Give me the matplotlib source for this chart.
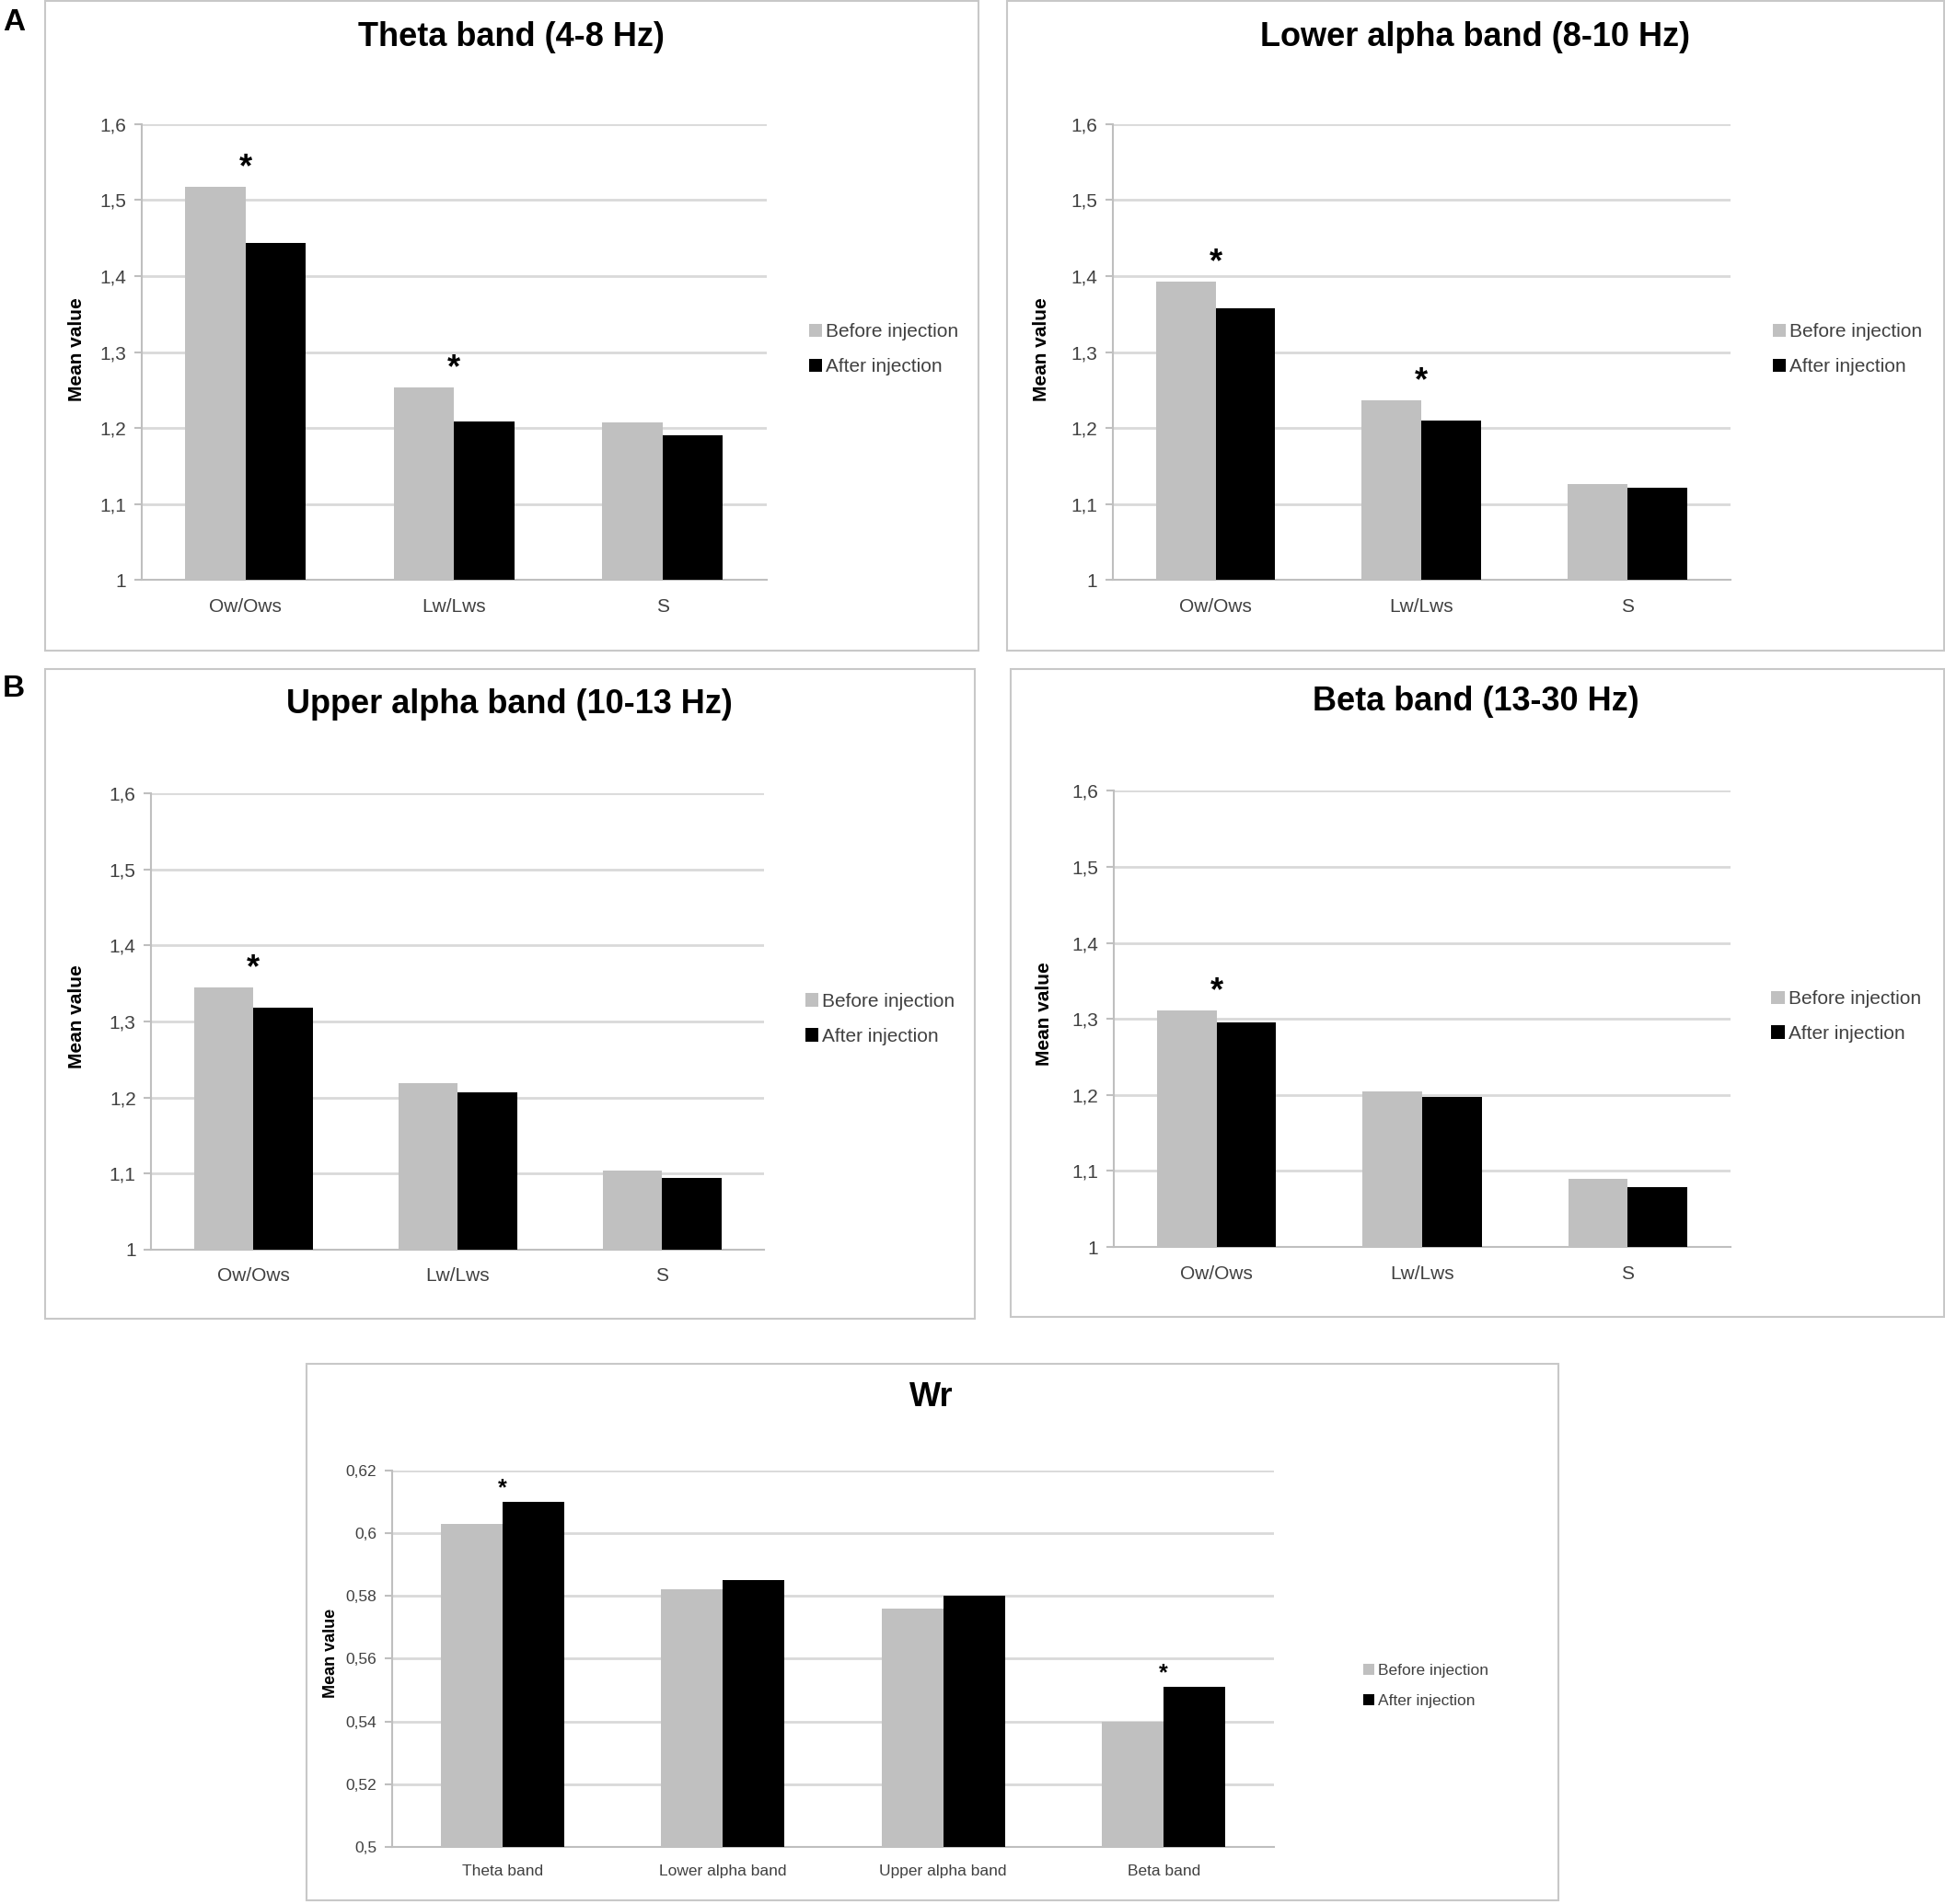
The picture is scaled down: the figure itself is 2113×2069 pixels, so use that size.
import matplotlib.pyplot as plt
from matplotlib.patches import Rectangle
from matplotlib.ticker import FuncFormatter

# Datos
grupos = ['Ow/Ows', 'Lw/Lws', 'S']
theta_antes = [1.517, 1.253, 1.207]
theta_despues = [1.443, 1.209, 1.191]
lower_antes = [1.393, 1.236, 1.126]
lower_despues = [1.357, 1.210, 1.121]
upper_antes = [1.345, 1.219, 1.104]
upper_despues = [1.318, 1.207, 1.094]
beta_antes = [1.311, 1.205, 1.090]
beta_despues = [1.295, 1.197, 1.079]
theta_sig = [0, 1]
lower_sig = [0, 1]
upper_sig = [0]
beta_sig = [0]

bandas = ['Theta band', 'Lower alpha band', 'Upper alpha band', 'Beta band']
wr_antes = [0.603, 0.582, 0.576, 0.540]
wr_despues = [0.610, 0.585, 0.580, 0.551]
wr_sig = [0, 3]

gris = '#c0c0c0'
negro = '#000000'
fuente_tick = ['Liberation Sans Narrow', 'Liberation Sans', 'DejaVu Sans']
fuente = ['Liberation Sans', 'DejaVu Sans']

W, H = 1568, 1536  # coordenadas de referencia
fig = plt.figure(figsize=(21.13, 20.69), dpi=100)


def caja(l, t, r, b):
    fig.patches.append(Rectangle((l / W, 1 - b / H), (r - l) / W, (b - t) / H,
                                 transform=fig.transFigure, fill=False,
                                 edgecolor='#c8c8c8', linewidth=1.5))


def coma(v, pos):
    return ('%g' % round(v, 3)).replace('.', ',')


def panel(rect, etiquetas, antes, despues, sig, ylim, paso, titulo, tit_xy,
          ylab_xy, leg_xy, fs_tick=15, fs_leg=15, fs_star=26, peq=False):
    l, t, r, b = rect
    ax = fig.add_axes([l / W, 1 - b / H, (r - l) / W, (b - t) / H])
    x = list(range(len(etiquetas)))
    ancho = 0.29 if not peq else 0.28
    ax.bar([i - ancho / 2 for i in x], antes, ancho, color=gris, label='Before injection', zorder=3)
    ax.bar([i + ancho / 2 for i in x], despues, ancho, color=negro, label='After injection', zorder=3)
    ax.set_xlim(-0.5, len(etiquetas) - 0.5)
    ax.set_ylim(*ylim)
    n = int(round((ylim[1] - ylim[0]) / paso))
    ax.set_yticks([ylim[0] + k * paso for k in range(n + 1)])
    ax.yaxis.set_major_formatter(FuncFormatter(coma))
    ax.set_xticks(x)
    ax.set_xticklabels(etiquetas)
    ax.grid(axis='y', color='#d9d9d9', linewidth=2, zorder=0)
    for s in ['top', 'right']:
        ax.spines[s].set_visible(False)
    for s in ['left', 'bottom']:
        ax.spines[s].set_color('#bfbfbf')
        ax.spines[s].set_linewidth(1.5)
    ax.tick_params(axis='y', length=6, color='#bfbfbf', width=1.5, labelsize=fs_tick,
                   labelcolor='#404040', pad=6)
    ax.tick_params(axis='x', length=0, labelsize=fs_tick, labelcolor='#404040', pad=14)
    for lab in ax.get_xticklabels() + ax.get_yticklabels():
        lab.set_family(fuente_tick)
    for i in sig:
        ax.annotate('*', (i, max(antes[i], despues[i])), xytext=(0, 2),
                    textcoords='offset points', ha='center', va='bottom',
                    fontsize=fs_star, fontweight='bold', family=fuente)
    fig.text(tit_xy[0] / W, 1 - tit_xy[1] / H, titulo, ha='center', va='center',
             fontsize=26, fontweight='bold', family=fuente)
    fig.text(ylab_xy[0] / W, 1 - ylab_xy[1] / H, 'Mean value', ha='center', va='center',
             rotation=90, fontsize=15 if not peq else 13, fontweight='bold', family=fuente)
    leg = ax.legend(loc='center left', bbox_to_anchor=(leg_xy[0] / W, 1 - leg_xy[1] / H),
                    bbox_transform=fig.transFigure, frameon=False, handlelength=0.7,
                    handleheight=0.7, handletextpad=0.2, labelspacing=0.9 if not peq else 1.0,
                    borderpad=0, borderaxespad=0, prop={'family': fuente_tick, 'size': fs_leg})
    for txt in leg.get_texts():
        txt.set_color('#404040')
    return ax


caja(36, 1, 789, 525)
caja(812, 1, 1567, 525)
caja(36, 540, 786, 1064)
caja(815, 540, 1567, 1062)
caja(247, 1100, 1256, 1533)

panel((114, 100, 618, 468), grupos, theta_antes, theta_despues, theta_sig, (1, 1.6), 0.1,
      'Theta band (4-8 Hz)', (412, 30), (62, 282), (652, 282))
panel((897, 100, 1395, 468), grupos, lower_antes, lower_despues, lower_sig, (1, 1.6), 0.1,
      'Lower alpha band (8-10 Hz)', (1189, 30), (840, 282), (1429, 282))
panel((122, 640, 616, 1008), grupos, upper_antes, upper_despues, upper_sig, (1, 1.6), 0.1,
      'Upper alpha band (10-13 Hz)', (411, 568), (62, 820), (649, 822))
panel((898, 638, 1395, 1006), grupos, beta_antes, beta_despues, beta_sig, (1, 1.6), 0.1,
      'Beta band (13-30 Hz)', (1190, 566), (842, 818), (1428, 820))
panel((316, 1186, 1027, 1490), bandas, wr_antes, wr_despues, wr_sig, (0.5, 0.62), 0.02,
      'Wr', (751, 1127), (267, 1334), (1099, 1360), fs_tick=12.5, fs_leg=12.5, fs_star=18, peq=True)

fig.text(11 / W, 1 - 18 / H, 'A', ha='center', va='center', fontsize=24,
         fontweight='bold', family=fuente)
fig.text(11 / W, 1 - 556 / H, 'B', ha='center', va='center', fontsize=24,
         fontweight='bold', family=fuente)

fig.savefig('out.png', dpi=100, facecolor='white')
